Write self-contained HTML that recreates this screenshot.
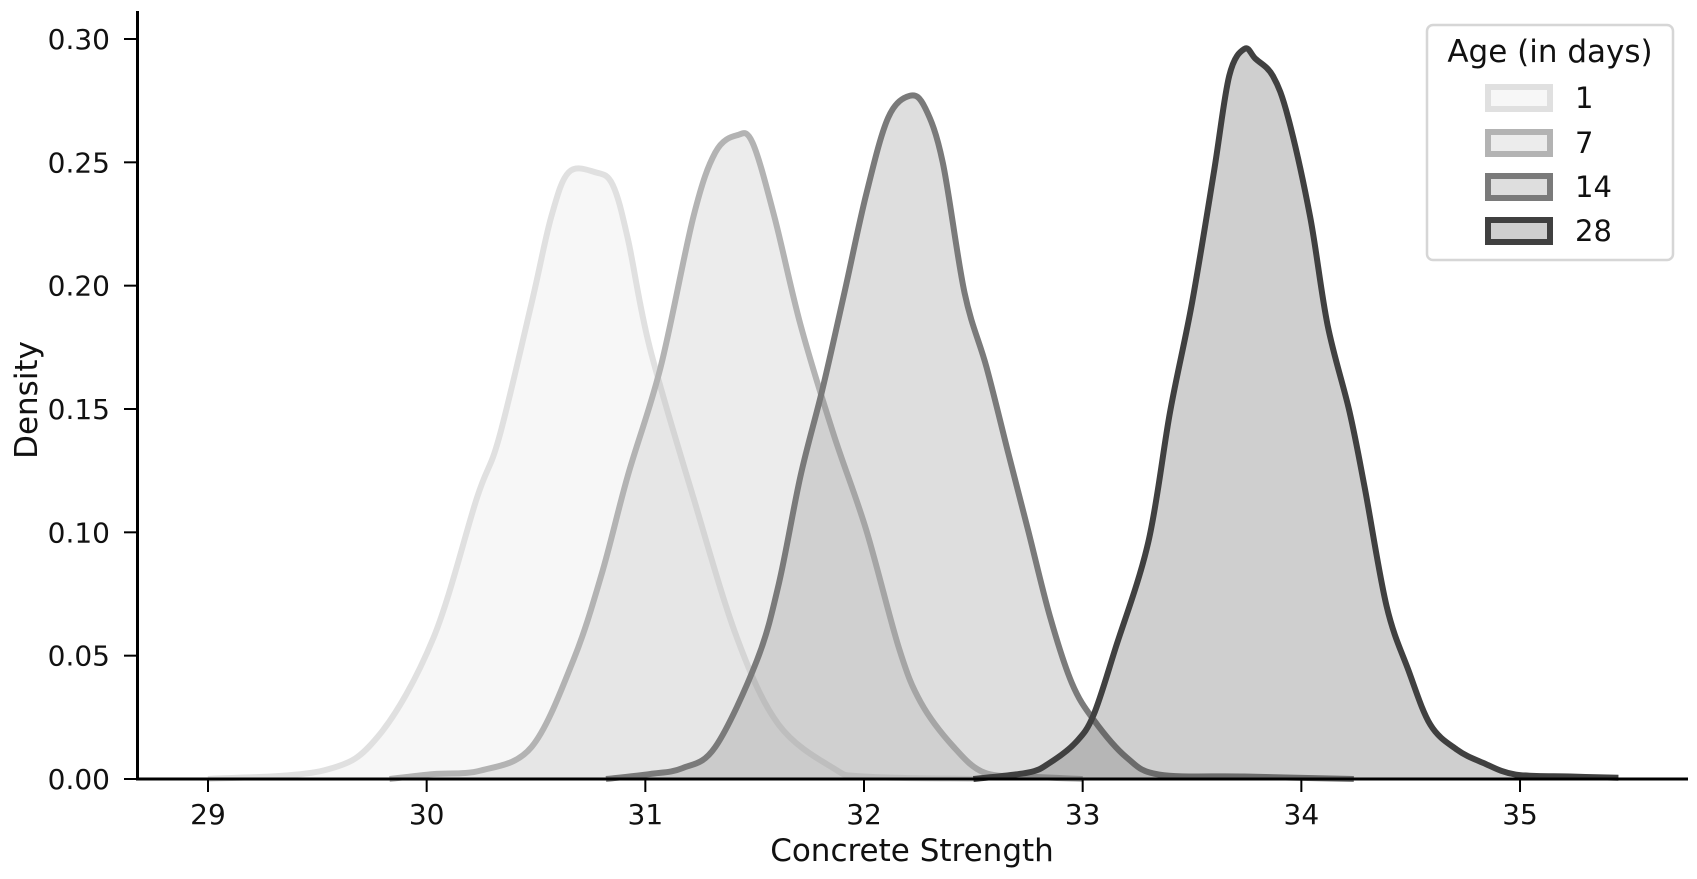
<!DOCTYPE html>
<html><head><meta charset="utf-8"><style>
html,body{margin:0;padding:0;background:#fff;}
svg{display:block;font-family:"DejaVu Sans","Liberation Sans",sans-serif;}
</style></head><body>
<svg id="chart" width="1697" height="879" viewBox="0 0 1697 879">
<g id="plot"></g>
<g id="axes"></g>
<g id="legend">
<rect x="1427" y="25" width="246" height="235" rx="6" fill="#fff" stroke="#d6d6d6" stroke-width="2.5"/>
<text x="1550" y="62" font-size="31" text-anchor="middle" fill="#111">Age (in days)</text>
</g>
</svg>
<script>
const seriesNames = ["1","7","14","28"];
const edgeColors = ["#e0e0e0","#b3b3b3","#7a7a7a","#404040"];
const xTicks = [29,30,31,32,33,34,35];
const yTicks = [0,0.05,0.10,0.15,0.20,0.25,0.30];
const yTickLabels = ["0.00","0.05","0.10","0.15","0.20","0.25","0.30"];
const x1 = [29,29.53,29.78,30.03,30.23,30.33,30.48,30.57,30.65,30.77,30.85,30.92,31.02,31.22,31.42,31.61,31.86,32.0,32.5];
const y1 = [0,0.0035,0.0175,0.057,0.114,0.138,0.193,0.228,0.246,0.246,0.241,0.219,0.175,0.114,0.057,0.022,0.0044,0.001,0];
const x7 = [29.83,30.03,30.25,30.48,30.67,30.8,30.92,31.07,31.22,31.32,31.42,31.49,31.59,31.71,31.86,32.01,32.16,32.26,32.41,32.55,32.75,33.0];
const y7 = [0,0.002,0.0035,0.013,0.048,0.083,0.123,0.167,0.228,0.254,0.261,0.258,0.228,0.184,0.14,0.101,0.053,0.031,0.013,0.0026,0.001,0];
const x14 = [30.82,31.02,31.17,31.32,31.51,31.61,31.71,31.81,31.91,32.01,32.11,32.21,32.28,32.36,32.46,32.56,32.66,32.75,32.85,32.95,33.05,33.2,33.35,33.74,34.24];
const y14 = [0,0.002,0.0044,0.013,0.048,0.079,0.123,0.158,0.197,0.237,0.268,0.277,0.272,0.25,0.197,0.167,0.132,0.101,0.066,0.039,0.024,0.0088,0.0018,0.001,0];
const x28 = [32.5,32.75,32.85,32.97,33.05,33.15,33.3,33.4,33.5,33.6,33.67,33.74,33.79,33.87,33.94,34.04,34.12,34.22,34.29,34.39,34.49,34.59,34.71,34.83,34.98,35.23,35.45];
const y28 = [0,0.0026,0.0066,0.015,0.026,0.053,0.096,0.149,0.193,0.246,0.285,0.296,0.292,0.285,0.268,0.228,0.184,0.149,0.118,0.07,0.044,0.022,0.012,0.0066,0.0018,0.001,0.0005];
const xs=[x1,x7,x14,x28], ys=[y1,y7,y14,y28];
const X0=208, XU=218.67, Y0=779, YU=2466.7;
const sx=v=>X0+(v-29)*XU, sy=v=>Y0-v*YU;
const NS="http://www.w3.org/2000/svg";
function mk(t,a,p){const e=document.createElementNS(NS,t);for(const k in a)e.setAttribute(k,a[k]);p.appendChild(e);return e;}
function smooth(pts){let d=`M${pts[0][0]},${pts[0][1]}`;for(let i=0;i<pts.length-1;i++){const p0=pts[i-1]||pts[i],p1=pts[i],p2=pts[i+1],p3=pts[i+2]||p2;const c1=[p1[0]+(p2[0]-p0[0])/6,p1[1]+(p2[1]-p0[1])/6],c2=[p2[0]-(p3[0]-p1[0])/6,p2[1]-(p3[1]-p1[1])/6];d+=` C${c1[0]},${Math.min(Y0,c1[1])} ${c2[0]},${Math.min(Y0,c2[1])} ${p2[0]},${p2[1]}`;}return d;}
const plot=document.getElementById('plot');
xs.forEach((xa,i)=>{
 const pts=xa.map((v,j)=>[sx(v),sy(ys[i][j])]);
 const d=smooth(pts);
 const f=mk('path',{d:d+` L${pts[pts.length-1][0]},${Y0} L${pts[0][0]},${Y0} Z`,fill:edgeColors[i],'fill-opacity':0.25,stroke:'none'},plot);
 
 
 const l=mk('path',{d:d,fill:'none',stroke:edgeColors[i],'stroke-width':6,'stroke-linejoin':'round'},plot);
 
 
});
const axes=document.getElementById('axes');
const ys1=mk('line',{x1:137.5,y1:11,x2:137.5,y2:Y0,stroke:'#000','stroke-width':3},axes);


const xs1=mk('line',{x1:136,y1:Y0,x2:1688,y2:Y0,stroke:'#000','stroke-width':3},axes);


xTicks.forEach(v=>{
 const t=mk('line',{x1:sx(v),y1:Y0,x2:sx(v),y2:Y0+13,stroke:'#000','stroke-width':2},axes);
 
 
 const tx=mk('text',{x:sx(v),y:824,'font-size':28,'text-anchor':'middle',fill:'#111'},axes);
 tx.textContent=v;
 
 
});
yTicks.forEach((v,i)=>{
 const t=mk('line',{x1:124,y1:sy(v),x2:137,y2:sy(v),stroke:'#000','stroke-width':2},axes);
 
 
 const tx=mk('text',{x:110,y:sy(v)+10,'font-size':28,'text-anchor':'end',fill:'#111'},axes);
 tx.textContent=yTickLabels[i];
 
 
});
const xl=mk('text',{x:912,y:861,'font-size':31,'text-anchor':'middle',fill:'#111'},axes);
xl.textContent='Concrete Strength';


const yl=mk('text',{x:0,y:0,'font-size':31,'text-anchor':'middle',fill:'#111',transform:'translate(37,400) rotate(-90)'},axes);
yl.textContent='Density';


const leg=document.getElementById('legend');
const legY=[98,143,187,231];
seriesNames.forEach((n,i)=>{
 const r=mk('rect',{x:1488,y:legY[i]-11,width:62,height:22,fill:edgeColors[i],'fill-opacity':0.25,stroke:edgeColors[i],'stroke-width':6},leg);
 
 
 const t=mk('text',{x:1575,y:legY[i]+10,'font-size':29,fill:'#111'},leg);
 t.textContent=n;
 
 
});
</script>
</body></html>
